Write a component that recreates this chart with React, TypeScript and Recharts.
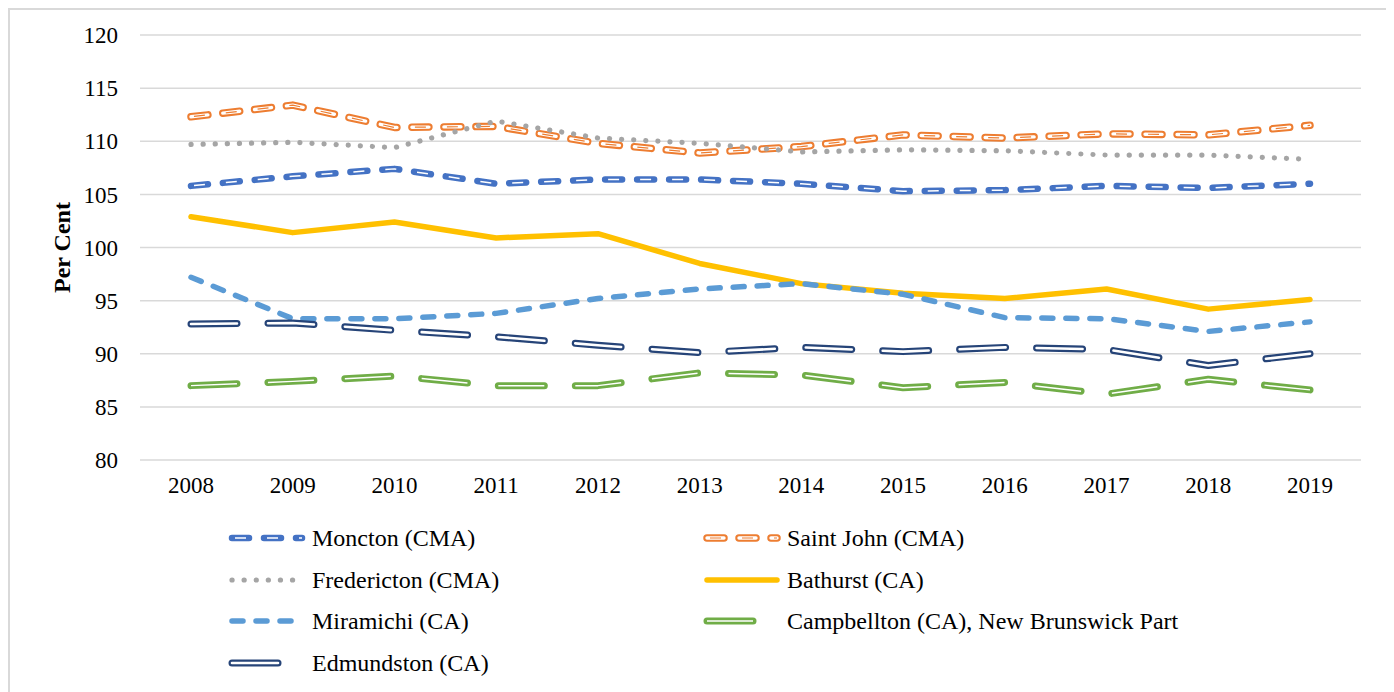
import { LineChart, Line, XAxis, YAxis, CartesianGrid } from "recharts";

const years = ["2008", "2009", "2010", "2011", "2012", "2013", "2014", "2015", "2016", "2017", "2018", "2019"];

const moncton = [105.8, 106.7, 107.4, 106.0, 106.4, 106.4, 106.0, 105.3, 105.4, 105.8, 105.6, 106.0];
const saintJohn = [112.3, 113.4, 111.3, 111.4, 109.8, 108.9, 109.5, 110.6, 110.3, 110.7, 110.6, 111.5];
const fredericton = [109.7, 109.9, 109.4, 111.9, 110.3, 109.8, 109.0, 109.2, 109.1, 108.7, 108.7, 108.3];
const bathurst = [102.9, 101.4, 102.4, 100.9, 101.3, 98.5, 96.6, 95.7, 95.2, 96.1, 94.2, 95.1];
const miramichi = [97.2, 93.3, 93.3, 93.8, 95.2, 96.1, 96.6, 95.6, 93.4, 93.3, 92.1, 93.0];
const campbellton = [87.0, 87.4, 87.9, 87.0, 87.0, 88.2, 88.0, 86.8, 87.3, 86.2, 87.6, 86.6];
const edmundston = [92.8, 92.9, 92.2, 91.6, 90.8, 90.1, 90.6, 90.2, 90.6, 90.4, 88.9, 90.0];

const yTicks = [80, 85, 90, 95, 100, 105, 110, 115, 120];

const data = years.map((year, i) => ({
  year,
  moncton: moncton[i],
  saintJohn: saintJohn[i],
  fredericton: fredericton[i],
  bathurst: bathurst[i],
  miramichi: miramichi[i],
  campbellton: campbellton[i],
  edmundston: edmundston[i],
}));

type Layer = { color: string; width: number; dash?: string; cap: "round" | "butt" };

const series: { key: string; name: string; layers: Layer[] }[] = [
  {
    key: "moncton",
    name: "Moncton (CMA)",
    layers: [
      { color: "#4472C4", width: 6.5, dash: "17 15", cap: "round" },
      { color: "#ffffff", width: 1.5, dash: "0 3 11 18", cap: "butt" },
    ],
  },
  {
    key: "saintJohn",
    name: "Saint John (CMA)",
    layers: [
      { color: "#ED7D31", width: 7.5, dash: "17 15", cap: "round" },
      { color: "#ffffff", width: 3.4, dash: "17 15", cap: "round" },
      { color: "#ED7D31", width: 1.2, dash: "0 3 11 18", cap: "butt" },
    ],
  },
  {
    key: "fredericton",
    name: "Fredericton (CMA)",
    layers: [{ color: "#A5A5A5", width: 5.2, dash: "0.1 12", cap: "round" }],
  },
  {
    key: "bathurst",
    name: "Bathurst (CA)",
    layers: [{ color: "#FFC000", width: 5.5, cap: "round" }],
  },
  {
    key: "miramichi",
    name: "Miramichi (CA)",
    layers: [{ color: "#5B9BD5", width: 5.5, dash: "11 13", cap: "round" }],
  },
  {
    key: "campbellton",
    name: "Campbellton (CA), New Brunswick Part",
    layers: [
      { color: "#70AD47", width: 7, dash: "46 31", cap: "round" },
      { color: "#ffffff", width: 1.5, dash: "46 31", cap: "butt" },
    ],
  },
  {
    key: "edmundston",
    name: "Edmundston (CA)",
    layers: [
      { color: "#264478", width: 7, dash: "46 31", cap: "round" },
      { color: "#ffffff", width: 2.6, dash: "46 31", cap: "round" },
    ],
  },
];

const font = '"Liberation Serif", "Times New Roman", serif';

// legend laid out like Excel: two columns, filled row by row
const legendPos = (i: number) => ({
  left: i % 2 === 0 ? 222 : 697,
  top: 528 + Math.floor(i / 2) * 41.5,
  textLeft: i % 2 === 0 ? 302 : 777,
});

function LegendIcon({ layers, width }: { layers: Layer[]; width: number }) {
  return (
    <svg width={width + 8} height={12} style={{ position: "absolute", left: -4, top: -6 }}>
      {layers.map((l, j) => (
        <line
          key={j}
          x1={4}
          x2={width + 4}
          y1={6}
          y2={6}
          stroke={l.color}
          strokeWidth={l.width}
          strokeDasharray={l.dash}
          strokeLinecap={l.cap}
        />
      ))}
    </svg>
  );
}

function YLabel({ viewBox }: any) {
  const cx = viewBox.x + 2;
  const cy = viewBox.y + viewBox.height / 2;
  return (
    <text
      x={cx}
      y={cy}
      transform={`rotate(-90, ${cx}, ${cy})`}
      textAnchor="middle"
      dominantBaseline="central"
      fontFamily={font}
      fontWeight="bold"
      fontSize={24}
      fill="#000"
    >
      Per Cent
    </text>
  );
}

export default function App() {
  return (
    <div
      style={{
        position: "relative",
        width: 1384,
        height: 700,
        border: "2px solid #D9D9D9",
        boxSizing: "border-box",
        background: "#fff",
        fontFamily: font,
      }}
    >
      <LineChart
        width={1380}
        height={490}
        data={data}
        margin={{ top: 25, right: 29, left: 50, bottom: 0 }}
      >
        <CartesianGrid vertical={false} stroke="#D9D9D9" strokeWidth={1.5} />
        <XAxis
          dataKey="year"
          axisLine={false}
          tickLine={false}
          tickSize={0}
          tickMargin={17}
          height={40}
          padding={{ left: 51, right: 51 }}
          tick={{ fill: "#000", fontSize: 23, fontFamily: font }}
          interval={0}
        />
        <YAxis
          domain={[80, 120]}
          ticks={yTicks}
          axisLine={false}
          tickLine={false}
          tickSize={0}
          tickMargin={22}
          width={80}
          tick={{ fill: "#000", fontSize: 23, fontFamily: font }}
          label={{ content: YLabel }}
        />
        {series.flatMap((s) =>
          s.layers.map((l, j) => (
            <Line
              key={`${s.key}-${j}`}
              type="linear"
              dataKey={s.key}
              stroke={l.color}
              strokeWidth={l.width}
              strokeDasharray={l.dash}
              strokeLinecap={l.cap}
              strokeLinejoin="round"
              dot={false}
              activeDot={false}
              legendType="none"
              isAnimationActive={false}
            />
          ))
        )}
      </LineChart>

      {series.map((s, i) => {
        const p = legendPos(i);
        return (
          <div key={s.key}>
            <div style={{ position: "absolute", left: p.left, top: p.top, width: 72 }}>
              <LegendIcon layers={s.layers} width={s.key === "campbellton" || s.key === "edmundston" ? 62 : 70} />
            </div>
            <div
              style={{
                position: "absolute",
                left: p.textLeft,
                top: p.top - 14,
                fontSize: 24,
                lineHeight: "28px",
                color: "#000",
                whiteSpace: "nowrap",
              }}
            >
              {s.name}
            </div>
          </div>
        );
      })}
    </div>
  );
}
